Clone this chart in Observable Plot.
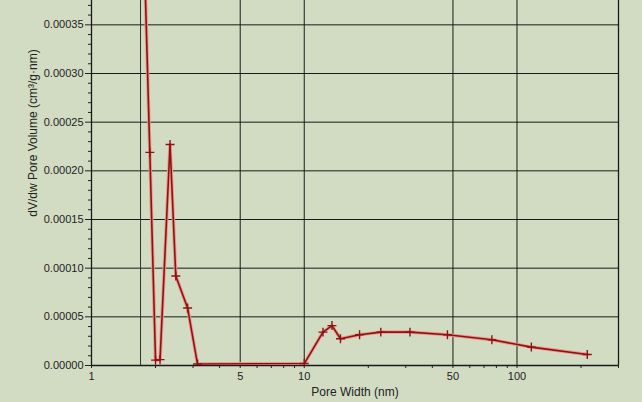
<!DOCTYPE html>
<html>
<head>
<meta charset="utf-8">
<script src="https://cdn.jsdelivr.net/npm/d3@7"></script>
<script src="https://cdn.jsdelivr.net/npm/@observablehq/plot@0.6"></script>
<style>
  html, body { margin: 0; padding: 0; background: #d2dcc3; }
</style>
</head>
<body>
<div id="chart"></div>
<script>
// Pore width (nm) and dV/dw pore volume (cm³/g·nm)
const poreWidth = [1.74, 1.88, 2.00, 2.10, 2.34, 2.49, 2.83, 3.15, 10.0, 12.25, 13.5, 14.8, 18.2, 22.9, 31.4, 47.1, 76.2, 116.8, 214];
const dVdw      = [0.00048, 0.000219, 0.0000055, 0.0000060, 0.000227, 0.000092, 0.000059, 0.0000015, 0.0000020, 0.0000343, 0.0000410, 0.0000275, 0.0000316, 0.0000343, 0.0000343, 0.0000316, 0.0000264, 0.0000189, 0.0000113];

const xMajorTicks = [1, 5, 10, 50, 100];
const xMinorTicks = [2, 3, 4, 6, 7, 8, 9, 20, 30, 40, 60, 70, 80, 90, 200, 300];
const xGrid = [5, 10, 50, 100];
const yMajorTicks = [0, 0.00005, 0.0001, 0.00015, 0.0002, 0.00025, 0.0003, 0.00035];
const yMinorTicks = d3.range(1, 38).map(i => i * 0.00001).filter(v => Math.round(v * 1e5) % 5 !== 0);
const markerLine = [1.7];
const xTitle = "Pore Width (nm)";
const yTitle = "dV/dw Pore Volume (cm³/g·nm)";

const data = poreWidth.map((w, i) => ({w, v: dVdw[i]}));

const chart = Plot.plot({
  width: 642,
  height: 402,
  marginLeft: 91,
  marginRight: 24,
  marginTop: 0,
  marginBottom: 37,
  style: {background: "#d2dcc3", fontFamily: "'Liberation Sans', Arial, sans-serif", fontSize: "11px", color: "#222"},
  x: {type: "log", domain: [1, 300]},
  y: {domain: [0, 0.000375]},
  marks: [
    Plot.gridX(xGrid, {stroke: "#1a1a1a", strokeOpacity: 1}),
    Plot.gridY(yMajorTicks, {stroke: "#1a1a1a", strokeOpacity: 1}),
    Plot.ruleX(markerLine, {stroke: "#333", strokeWidth: 1}),
    Plot.axisX(xMinorTicks, {tickSize: 3, tickFormat: () => "", label: null, stroke: "#222"}),
    Plot.axisX(xMajorTicks, {tickSize: 3, tickFormat: () => "", label: null, stroke: "#222"}),
    Plot.text(xMajorTicks, {x: d => d, y: 0, dy: 11, text: d => String(d), fill: "#222", lineAnchor: "middle"}),
    Plot.text([xTitle], {frameAnchor: "bottom", dy: 27, text: d => d, fill: "#222", fontSize: 12, lineAnchor: "middle", textAnchor: "middle"}),
    Plot.axisY(yMinorTicks, {tickSize: 3, tickFormat: () => "", label: null, stroke: "#222"}),
    Plot.axisY(yMajorTicks, {tickSize: 6, tickPadding: 2, tickFormat: d => d.toFixed(5), label: null, fill: "#222", stroke: "#222"}),
    Plot.text([yTitle], {frameAnchor: "left", dx: -58, dy: -50, rotate: -90, text: d => d, fill: "#222", fontSize: 12, lineAnchor: "middle", textAnchor: "middle"}),
    Plot.ruleX([1, 300], {stroke: "#1a1a1a", strokeWidth: 1.3}),
    Plot.ruleY([0], {stroke: "#1a1a1a", strokeWidth: 1.3}),
    Plot.line(data, {x: "w", y: "v", stroke: "#e89a90", strokeWidth: 3.5, clip: true}),
    Plot.line(data, {x: "w", y: "v", stroke: "#8e1212", strokeWidth: 1.6, clip: true}),
    Plot.dot(data, {x: "w", y: "v", symbol: "plus", r: 3, stroke: "#8e1212", strokeWidth: 1.4, clip: true})
  ]
});
document.getElementById("chart").append(chart);
</script>
</body>
</html>
